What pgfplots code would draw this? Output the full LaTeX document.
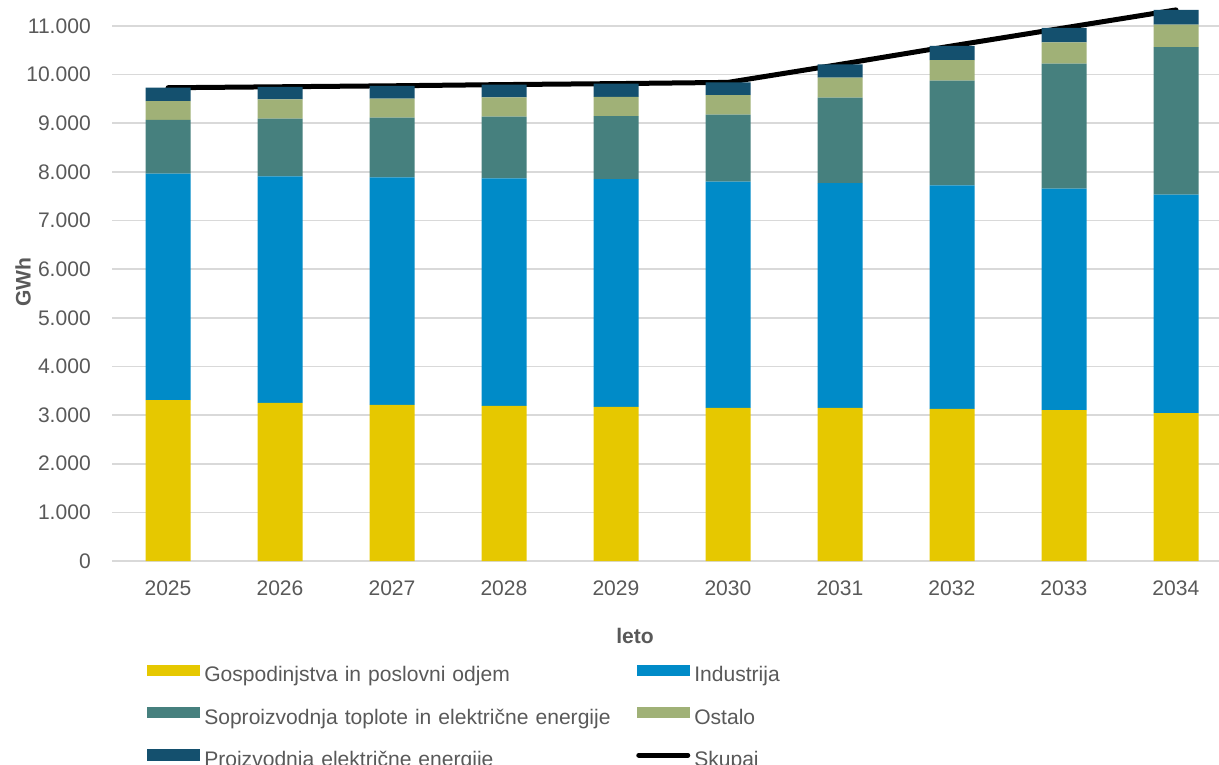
\documentclass[border=0pt]{standalone}
\usepackage{fontspec}
\setmainfont{Liberation Sans}
\usepackage{pgfplots}
\usepackage{pgfplotstable}
\pgfplotsset{compat=1.18}
\definecolor{cYellow}{HTML}{E6C800}
\definecolor{cBlue}{HTML}{008BC8}
\definecolor{cTeal}{HTML}{46807E}
\definecolor{cGreen}{HTML}{A0B177}
\definecolor{cDark}{HTML}{14506E}
\definecolor{txt}{HTML}{595959}
\definecolor{grd}{HTML}{D9D9D9}
\pgfplotstableread{
year g i s o p total
2025 3310 4655 1102 390 273 9730
2026 3250 4660 1184 398 258 9750
2027 3210 4679 1226 390 265 9770
2028 3190 4678 1267 398 262 9795
2029 3170 4680 1299 391 275 9815
2030 3150 4650 1376 404 260 9840
2031 3150 4621 1754 411 274 10210
2032 3130 4594 2151 425 290 10590
2033 3100 4555 2569 440 296 10960
2034 3040 4491 3036 459 304 11330
}\datatable
\begin{document}
\begin{tikzpicture}
\useasboundingbox (-84pt,-152.25pt) rectangle (830.25pt,420.75pt);
\begin{axis}[
  scale only axis,
  width=830.25pt, height=420.75pt,
  xmin=2024.5, xmax=2034.384,
  ymin=0, ymax=11534,
  ybar stacked, bar width=33.75pt,
  xtick={2025,...,2034},
  ytick={0,1000,...,11000},
  scaled y ticks=false,
  major tick length=0pt,
  axis line style={draw=none},
  ymajorgrids,
  grid style={grd, line width=1.2pt},
  /pgf/number format/assume math mode=true,
  tick label style={font=\fontsize{15.8}{18}\selectfont, color=txt},
  x tick label style={/pgf/number format/1000 sep={}, anchor=base, yshift=-25.5pt, inner sep=0pt},
  y tick label style={/pgf/number format/1000 sep={.}, anchor=east, inner xsep=0pt, xshift=-15.75pt},
  every axis y label/.style={at={(axis description cs:-0.0804,0.497)}, rotate=90, anchor=center, font=\bfseries\fontsize{15.8}{18}\selectfont, color=txt},
  every axis x label/.style={at={(axis description cs:0.4725,0)}, anchor=base, yshift=-61.5pt, font=\bfseries\fontsize{15.8}{18}\selectfont, color=txt},
  ylabel={GWh}, xlabel={leto},
  legend columns=2,
  legend cell align=left,
  legend style={at={(0,0)}, anchor=north west, xshift=26.25pt, yshift=-77.5pt,
    draw=none, fill=none, inner sep=0pt, column sep=3pt, row sep=15pt,
    font=\fontsize{15.8}{18}\selectfont, text=txt,
    nodes={inner sep=0pt, text height=11pt, text depth=4pt, text width=321pt, align=left}},
]
\addplot[fill=cYellow, draw=none, legend image code/.code={\fill[cYellow] (0pt,0.75pt) rectangle (39.75pt,9.3pt);}] table[x=year,y=g]{\datatable};
\addlegendentry{Gospodinjstva in poslovni odjem}
\addplot[fill=cBlue, draw=none, legend image code/.code={\fill[cBlue] (0pt,0.75pt) rectangle (39.75pt,9.3pt);}] table[x=year,y=i]{\datatable};
\addlegendentry{Industrija}
\addplot[fill=cTeal, draw=none, legend image code/.code={\fill[cTeal] (0pt,0.75pt) rectangle (39.75pt,9.3pt);}] table[x=year,y=s]{\datatable};
\addlegendentry{Soproizvodnja toplote in električne energije}
\addplot[fill=cGreen, draw=none, legend image code/.code={\fill[cGreen] (0pt,0.75pt) rectangle (39.75pt,9.3pt);}] table[x=year,y=o]{\datatable};
\addlegendentry{Ostalo}
\addplot[fill=cDark, draw=none, legend image code/.code={\fill[cDark] (0pt,0.75pt) rectangle (39.75pt,9.3pt);}] table[x=year,y=p]{\datatable};
\addlegendentry{Proizvodnja električne energije}
\addplot[stack plots=false, sharp plot, black, line width=3.75pt, line cap=round, line join=round, fill=none, mark=none,
  legend image code/.code={\draw[black, line width=3.75pt, line cap=round] (1.5pt,5pt) -- (38.25pt,5pt);}] table[x=year,y=total]{\datatable};
\addlegendentry{Skupaj}
\end{axis}
\end{tikzpicture}
\end{document}
